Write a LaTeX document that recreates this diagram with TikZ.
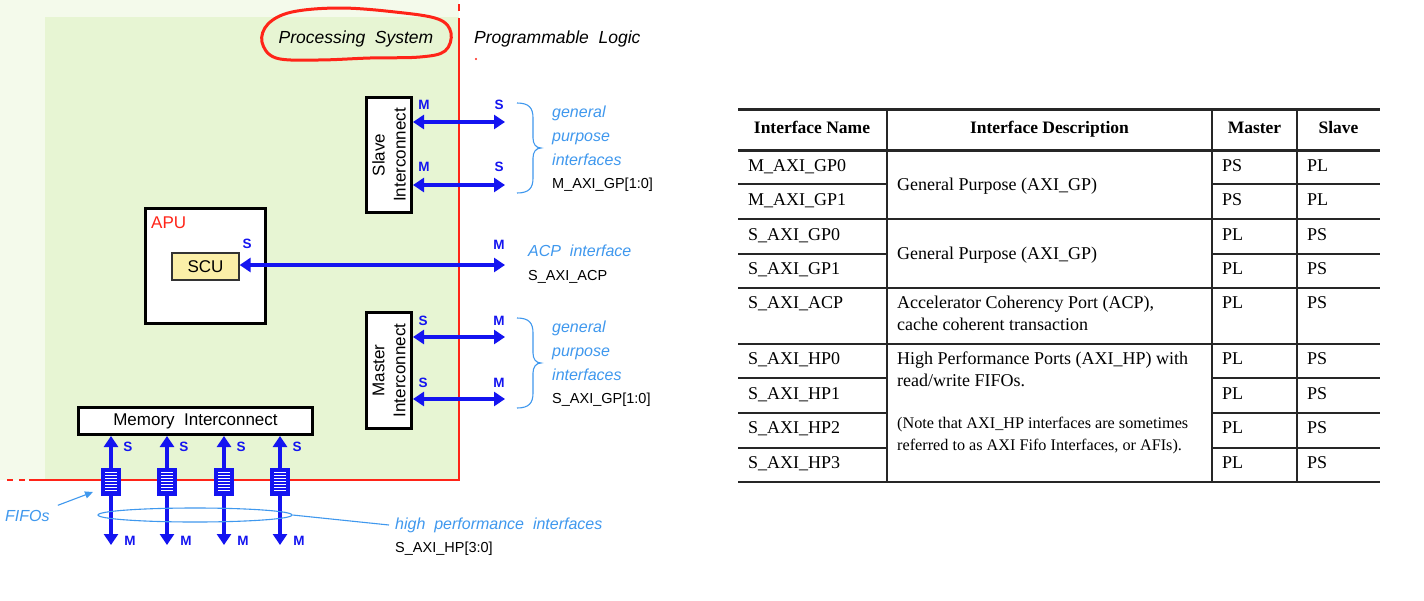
\documentclass[tikz,border=0pt]{standalone}
\usepackage{fontspec}
\setmainfont{Liberation Serif}
\newfontfamily\arialf{Liberation Sans}
\usetikzlibrary{arrows.meta,calc,shapes.geometric}
\definecolor{psgreen}{HTML}{E7F5D3}
\definecolor{psgreenlight}{HTML}{F4FAEB}
\definecolor{arrowblue}{HTML}{1414F0}
\definecolor{lblue}{HTML}{3F98EE}
\definecolor{pred}{HTML}{FF2418}
\definecolor{scuy}{HTML}{FBEFA8}
\definecolor{tline}{HTML}{262626}
\tikzset{
  box/.style={draw=black, line width=3pt, fill=white, inner sep=0pt},
  busarrow/.style={draw=arrowblue, line width=3.4pt,
     {Triangle[length=11pt,width=14pt]}-{Triangle[length=11pt,width=14pt]}},
  portlbl/.style={text=arrowblue, font=\arialf\bfseries\fontsize{13.5}{14}\selectfont, inner sep=0pt},
  bluetxt/.style={text=lblue, font=\arialf\itshape\fontsize{16}{16}\selectfont, anchor=west, inner sep=0pt, text height=11.5pt, text depth=3.5pt},
  blacktxt/.style={text=black, font=\arialf\fontsize{14.5}{15}\selectfont, anchor=west, inner sep=0pt, text height=10.5pt, text depth=3.5pt},
  titletxt/.style={text=black, font=\arialf\itshape\fontsize{17.5}{18}\selectfont, inner sep=0pt, text height=12.5pt, text depth=4pt},
  boxtxt/.style={text=black, font=\arialf\fontsize{17}{21}\selectfont, inner sep=0pt},
  bracestyle/.style={draw=lblue, line width=1.1pt},
  cell/.style={text=black, font=\fontsize{18}{22}\selectfont, anchor=west, inner sep=0pt, text height=12.5pt, text depth=4pt},
  notecell/.style={text=black, font=\fontsize{16.2}{22}\selectfont, anchor=west, inner sep=0pt, text height=11.5pt, text depth=3.5pt},
  headcell/.style={text=black, font=\bfseries\fontsize{17.5}{18}\selectfont, inner sep=0pt, text height=12pt, text depth=4pt},
  thickrule/.style={draw=tline, line width=3pt},
  thinrule/.style={draw=tline, line width=1.3pt},
  fifobox/.style={draw=arrowblue, fill=arrowblue, line width=1.2pt, minimum width=18pt, minimum height=26pt, inner sep=0pt}
}
\begin{document}
\begin{tikzpicture}[x=1pt,y=-1pt]
\useasboundingbox (0,0) rectangle (1424,600);
\fill[white] (0,0) rectangle (1424,600);
% ---------------- Processing system area
\fill[psgreenlight] (0,0) rectangle (459,480);
\fill[psgreen] (45,17) rectangle (459,480);
\draw[pred, line width=2.8pt] (459,18) -- (459,480) -- (29,480);
\draw[pred, line width=2.8pt] (459,4) -- (459,11);
\draw[pred, line width=2.8pt] (7,480) -- (13,480) (19,480) -- (25,480);
\fill[pred] (476,59) circle (1.2pt);

\node[titletxt] (ps) at (356,39) {Processing\ \ System};
\draw[pred, line width=3pt, line join=round]
  plot[smooth cycle, tension=0.6] coordinates {(262,42) (268,24) (292,12) (340,8) (395,12) (438,19) (451,33) (445,51) (420,57) (370,58) (318,60) (276,58)};
\node[titletxt, anchor=west] (pl) at (474,39) {Programmable\ \ Logic};

% ---------------- Slave interconnect
\node[box, minimum width=45pt, minimum height=115pt] (slave) at (389,155) {};
\node[boxtxt, rotate=90, align=center] (slavetxt) at (slave.center) {Slave\\Interconnect};
\coordinate (gpm0) at (505,122);
\coordinate (gpm1) at (505,185);
\draw[busarrow] (gpm0 -| slave.east) -- (gpm0);
\draw[busarrow] (gpm1 -| slave.east) -- (gpm1);
\node[portlbl] (sm0) at (424,105) {M};
\node[portlbl] (sm1) at (424,167) {M};
\node[portlbl] (ss0) at (499,105) {S};
\node[portlbl] (ss1) at (499,167) {S};
\draw[bracestyle] (517,103) .. controls (529,103) and (533,108) .. (533,118) -- (533,138)
   .. controls (533,144) and (536,148) .. (541,148) .. controls (536,148) and (533,152) .. (533,158)
   -- (533,178) .. controls (533,188) and (529,193) .. (517,193);
\node[bluetxt] (g1) at (552,113) {general};
\node[bluetxt] (g2) at (552,137) {purpose};
\node[bluetxt] (g3) at (552,161) {interfaces};
\node[blacktxt] (g4) at (552,185) {M\_AXI\_GP[1:0]};

% ---------------- APU / SCU
\node[box, minimum width=120pt, minimum height=115pt] (apu) at (205.5,266) {};
\node[text=pred, font=\arialf\fontsize{17}{17}\selectfont, anchor=west, inner sep=0pt] (apulbl) at (151,223) {APU};
\node[draw=black!80, line width=1.3pt, fill=scuy, minimum width=67pt, minimum height=27pt, inner sep=0pt,
      font=\arialf\fontsize{17}{17}\selectfont] (scu) at (205.5,266.5) {SCU};
\coordinate (acpend) at (505,265);
\draw[busarrow] (acpend -| scu.east) -- (acpend);
\node[portlbl] (scus) at (247,244) {S};
\node[portlbl] (acpm) at (499,245) {M};
\node[bluetxt] (acp1) at (528,252) {ACP\ \ interface};
\node[blacktxt] (acp2) at (528,277) {S\_AXI\_ACP};

% ---------------- Master interconnect
\node[box, minimum width=45pt, minimum height=116pt] (master) at (389,370.5) {};
\node[boxtxt, rotate=90, align=center] (mastertxt) at (master.center) {Master\\Interconnect};
\coordinate (gps0) at (505,337);
\coordinate (gps1) at (505,399);
\draw[busarrow] (gps0 -| master.east) -- (gps0);
\draw[busarrow] (gps1 -| master.east) -- (gps1);
\node[portlbl] (ms0) at (423,321) {S};
\node[portlbl] (ms1) at (423,383) {S};
\node[portlbl] (mm0) at (499,321) {M};
\node[portlbl] (mm1) at (499,383) {M};
\draw[bracestyle] (517,318) .. controls (529,318) and (533,323) .. (533,333) -- (533,353)
   .. controls (533,359) and (536,363) .. (541,363) .. controls (536,363) and (533,367) .. (533,373)
   -- (533,393) .. controls (533,403) and (529,408) .. (517,408);
\node[bluetxt] (h1) at (552,328) {general};
\node[bluetxt] (h2) at (552,352) {purpose};
\node[bluetxt] (h3) at (552,376) {interfaces};
\node[blacktxt] (h4) at (552,400) {S\_AXI\_GP[1:0]};

% ---------------- Memory interconnect and HP ports
\node[box, minimum width=234pt, minimum height=27pt, font=\arialf\fontsize{17}{17}\selectfont] (mem) at (195.5,421) {Memory\ \ Interconnect};
\foreach \i/\x in {0/111,1/167,2/224,3/280} {
  \coordinate (hpbot\i) at (\x,545);
  \draw[busarrow] (hpbot\i |- mem.south) -- (hpbot\i);
  \node[fifobox] (fifo\i) at (\x,482) {};
  \foreach \yy in {472.5,475.5,478.5,481.5,484.5,487.5,490.5}
    \draw[white, line width=1pt] (\x-6,\yy) -- (\x+6,\yy);
  \node[portlbl] (hps\i) at (\x+17,447) {S};
  \node[portlbl] (hpm\i) at (\x+19,541) {M};
}
\node[draw=lblue, line width=1.1pt, ellipse, minimum width=194pt, minimum height=14pt, inner sep=0pt] (hpell) at (195,515) {};
\node[bluetxt] (hptxt) at (395,525) {high\ \ performance\ \ interfaces};
\node[blacktxt] (hpname) at (395,549) {S\_AXI\_HP[3:0]};
\draw[draw=lblue, line width=1.1pt] (hpell.east) -- ([xshift=-6pt]hptxt.west);
\node[bluetxt] (fifolbl) at (5,517) {FIFOs};
\coordinate (fifoarrowtip) at (93,492);
\draw[draw=lblue, line width=1.1pt, -{Triangle[length=8pt,width=7pt]}] ([xshift=8pt,yshift=4pt]fifolbl.north east) -- (fifoarrowtip);

% ---------------- Table
\draw[thickrule] (738,109) -- (1380,109);
\draw[thickrule] (738,150) -- (1380,150);
\foreach \y in {219,288,344,482}
  \draw[thinrule] (738,\y) -- (1380,\y);
\foreach \y in {184,254,378,413,448} {
  \draw[thinrule] (738,\y) -- (887,\y);
  \draw[thinrule] (1212,\y) -- (1380,\y);
}
\foreach \x in {887,1212,1297}
  \draw[thinrule] (\x,109) -- (\x,482);

\node[headcell] (hd1) at (812,129) {Interface Name};
\node[headcell] (hd2) at (1049.5,129) {Interface Description};
\node[headcell] (hd3) at (1254.5,129) {Master};
\node[headcell] (hd4) at (1338.5,129) {Slave};

\foreach \i/\n/\y/\m/\s in {1/M\_AXI\_GP0/167/PS/PL, 2/M\_AXI\_GP1/201/PS/PL,
   3/S\_AXI\_GP0/236/PL/PS, 4/S\_AXI\_GP1/270/PL/PS, 5/S\_AXI\_ACP/304/PL/PS,
   6/S\_AXI\_HP0/360/PL/PS, 7/S\_AXI\_HP1/395/PL/PS, 8/S\_AXI\_HP2/429/PL/PS, 9/S\_AXI\_HP3/464/PL/PS} {
  \node[cell] (nm\i) at (748,\y) {\n};
  \node[cell] (ma\i) at (1222,\y) {\m};
  \node[cell] (sl\i) at (1307,\y) {\s};
}
\node[cell] (d1) at (897,186) {General Purpose (AXI\_GP)};
\node[cell] (d2) at (897,255) {General Purpose (AXI\_GP)};
\node[cell] (d3) at (897,304) {Accelerator Coherency Port (ACP),};
\node[cell] (d4) at (897,326) {cache coherent transaction};
\node[cell] (d5) at (897,360) {High Performance Ports (AXI\_HP) with};
\node[cell] (d6) at (897,382) {read/write FIFOs.};
\node[notecell] (d7) at (897,424) {(Note that AXI\_HP interfaces are sometimes};
\node[notecell] (d8) at (897,446) {referred to as AXI Fifo Interfaces, or AFIs).};
\end{tikzpicture}
\end{document}
